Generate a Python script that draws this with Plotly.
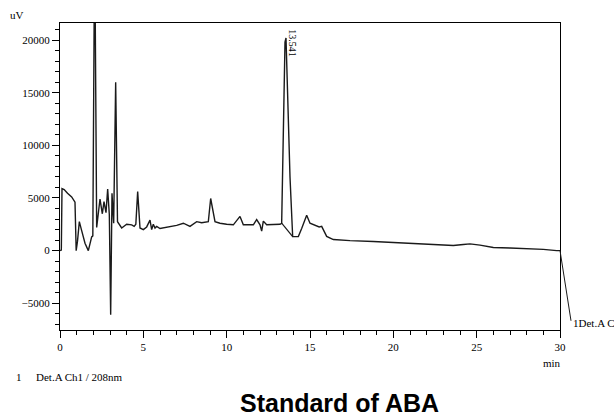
import plotly.graph_objects as go

# Chromatogram trace: retention time (min) and detector signal (uV)
time_min = [
    0.0, 0.08, 0.12, 0.25, 0.45, 0.7, 0.9, 0.97, 1.05, 1.16, 1.3, 1.5, 1.7, 1.8, 1.9, 1.97,
    2.08, 2.2, 2.3, 2.4, 2.54, 2.64, 2.76, 2.86, 2.96, 3.04, 3.12, 3.22, 3.34, 3.45,
    3.7, 4.0, 4.3, 4.45, 4.55, 4.66, 4.8, 5.0, 5.2, 5.4, 5.5, 5.6, 5.7, 5.8, 6.0,
    6.5, 7.0, 7.4, 7.8, 8.2, 8.5, 8.9, 9.04, 9.3, 9.6, 10.0, 10.4, 10.8, 11.0,
    11.3, 11.6, 11.8, 12.0, 12.1, 12.2, 12.4, 12.8, 13.2, 13.3, 13.4, 13.5, 13.56,
    13.66, 13.8, 13.96, 14.3,
    14.5, 14.8, 15.0, 15.4, 15.55, 15.7, 16.0, 16.4, 16.8, 17.4, 18.8, 20.0, 21.4,
    22.5, 23.6, 24.2, 24.6, 25.2, 26.0, 27.0, 27.8, 29.0, 29.8, 30.0,
]
signal_uv = [
    0, 50, 5900, 5800, 5450, 5100, 4600, 0, 900, 2750, 1900, 700, 0, 600, 1300, 1400,
    30000, 2200, 3900, 4900, 3500, 4650, 3600, 5850, 3400, -6100, 5450, 2600, 16000, 2750,
    2150, 2500, 2450, 2300, 2500, 5600, 2150, 2000, 2250, 2900, 2000, 2500, 2150, 2300, 2100,
    2250, 2400, 2600, 2300, 2750, 2650, 2750, 4950, 2750, 2600, 2500, 2450, 3250, 2450,
    2450, 2450, 2950, 2450, 1850, 2800, 2450, 2500, 2500, 2600, 11000, 19800, 20200,
    15000, 7000, 1330, 1330,
    2100, 3350, 2600, 2300, 2250, 2300, 1350, 1050, 1000, 950, 860, 760, 640,
    560, 480, 580, 640, 520, 300, 250, 220, 120, 0, 0,
]

# Integration baseline drawn under the labelled peak
baseline_time = [13.3, 13.96]
baseline_uv = [2600, 1330]

peak_time = 13.541
peak_uv = 20200
peak_label = "13.541"

x_range = [0, 30]
y_range = [-7540, 21620]

serif = "Liberation Serif"
ink = "#1a1a1a"

fig = go.Figure()
fig.add_trace(go.Scatter(
    x=time_min, y=signal_uv, mode="lines",
    line=dict(color=ink, width=1.4), hoverinfo="skip", showlegend=False,
))
fig.add_trace(go.Scatter(
    x=baseline_time, y=baseline_uv, mode="lines",
    line=dict(color=ink, width=1.2), hoverinfo="skip", showlegend=False,
))
# Invisible trace that keeps the minor-tick axes alive
fig.add_trace(go.Scatter(
    x=x_range, y=y_range, xaxis="x2", yaxis="y2", mode="lines",
    line=dict(width=0), opacity=0, hoverinfo="skip", showlegend=False,
))

axis_common = dict(
    showgrid=False, zeroline=False, showline=True, linecolor="black", linewidth=1,
    mirror=True, ticks="outside", tickcolor="black", ticklen=7, tickwidth=1,
    tickfont=dict(family=serif, size=11, color="black"),
)
minor_common = dict(
    showgrid=False, zeroline=False, showline=False, showticklabels=False,
    ticks="outside", tickcolor="black", ticklen=4, tickwidth=1, tickmode="linear",
)

fig.update_layout(
    xaxis=dict(range=x_range, tickmode="linear", tick0=0, dtick=5, **axis_common),
    yaxis=dict(range=y_range, tickmode="linear", tick0=0, dtick=5000,
               tickformat="d", **axis_common),
    xaxis2=dict(range=x_range, overlaying="x", anchor="y", side="bottom",
                tick0=0, dtick=1, **minor_common),
    yaxis2=dict(range=y_range, overlaying="y", anchor="x", side="left",
                tick0=0, dtick=1000, **minor_common),
)

annotations = [
    dict(x=peak_time, y=peak_uv, xref="x", yref="y", text=peak_label, showarrow=False,
         textangle=90, xanchor="center", yanchor="middle", xshift=6, yshift=-5,
         font=dict(family=serif, size=10, color="black")),
    dict(x=-0.105, y=1.025, xref="paper", yref="paper", text="uV", showarrow=False,
         xanchor="left", yanchor="middle", font=dict(family=serif, size=11, color="black")),
    dict(x=0.984, y=-0.108, xref="paper", yref="paper", text="min", showarrow=False,
         xanchor="center", yanchor="middle", font=dict(family=serif, size=11, color="black")),
    dict(x=-0.092, y=-0.153, xref="paper", yref="paper", text="1", showarrow=False,
         xanchor="left", yanchor="middle", font=dict(family=serif, size=11, color="black")),
    dict(x=-0.052, y=-0.153, xref="paper", yref="paper", text="Det.A Ch1 / 208nm",
         showarrow=False, xanchor="left", yanchor="middle",
         font=dict(family=serif, size=11, color="black")),
    dict(x=1.022, y=0.022, xref="paper", yref="paper", text="1Det.A C", showarrow=False,
         xanchor="left", yanchor="middle", font=dict(family=serif, size=11, color="black")),
    dict(x=0.558, y=-0.239, xref="paper", yref="paper", text="<b>Standard of ABA</b>",
         showarrow=False, xanchor="center", yanchor="middle",
         font=dict(family="Liberation Sans", size=25, color="black")),
]

fig.update_layout(
    width=614, height=416,
    margin=dict(l=60, r=54, t=23, b=86),
    paper_bgcolor="white", plot_bgcolor="white",
    annotations=annotations,
    shapes=[dict(type="line", xref="paper", yref="paper",
                 x0=1.0, y0=0.259, x1=1.022, y1=0.03,
                 line=dict(color=ink, width=1))],
)

fig.write_html("out.html")
